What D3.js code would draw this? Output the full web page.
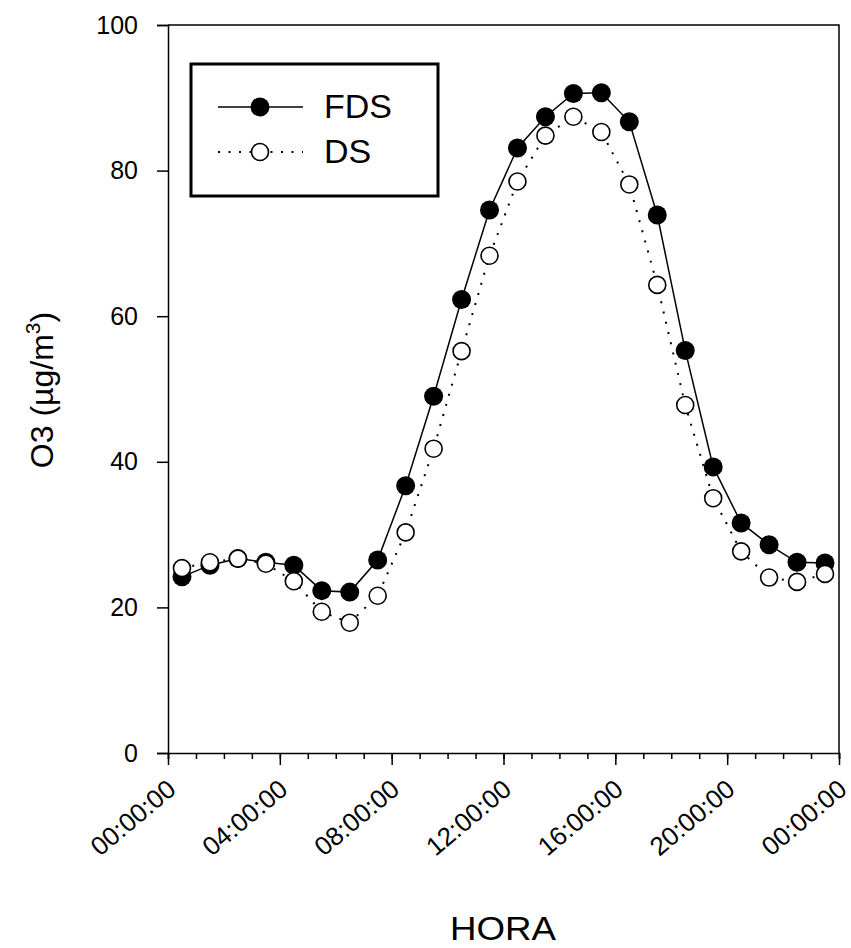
<!DOCTYPE html>
<html>
<head>
<meta charset="utf-8">
<script src="https://cdn.jsdelivr.net/npm/d3@7/dist/d3.min.js"></script>
<style>
  html, body { margin: 0; padding: 0; background: #fff; overflow: hidden; }
  svg { display: block; }
  text { font-family: "Liberation Sans", Arial, sans-serif; fill: #000; }
</style>
</head>
<body>
<svg id="chart" width="851" height="948"></svg>
<script>
// Hourly O3 profile (half-hour centred samples)
const hours = [0.5, 1.5, 2.5, 3.5, 4.5, 5.5, 6.5, 7.5, 8.5, 9.5, 10.5, 11.5,
               12.5, 13.5, 14.5, 15.5, 16.5, 17.5, 18.5, 19.5, 20.5, 21.5, 22.5, 23.5];
const fds = [24.2, 25.8, 26.7, 26.2, 25.8, 22.3, 22.1, 26.5, 36.7, 49.0, 62.3, 74.6,
             83.1, 87.4, 90.6, 90.7, 86.7, 73.9, 55.3, 39.3, 31.6, 28.6, 26.2, 26.1];
const ds  = [25.4, 26.2, 26.7, 26.0, 23.6, 19.4, 17.9, 21.6, 30.3, 41.8, 55.2, 68.3,
             78.5, 84.8, 87.4, 85.3, 78.1, 64.3, 47.8, 35.0, 27.7, 24.1, 23.5, 24.6];
const xTickHours = [0, 4, 8, 12, 16, 20, 24];
const xTickLabels = ["00:00:00", "04:00:00", "08:00:00", "12:00:00", "16:00:00", "20:00:00", "00:00:00"];
const yTicks = [0, 20, 40, 60, 80, 100];
const seriesNames = ["FDS", "DS"];

const svg = d3.select("#chart");
const m = { left: 168, right: 839, top: 25, bottom: 753 };

const x = d3.scaleLinear().domain([0, 24]).range([m.left, m.right]);
const y = d3.scaleLinear().domain([0, 100]).range([m.bottom, m.top]);

// frame (top and right edges)
svg.append("path")
  .attr("d", `M${m.left},${m.top}H${m.right}V${m.bottom}`)
  .attr("fill", "none").attr("stroke", "#000").attr("stroke-width", 1.5);

// Y axis
const yAxis = svg.append("g")
  .attr("transform", `translate(${m.left},0)`)
  .call(d3.axisLeft(y).tickValues(yTicks).tickSize(11).tickPadding(19));
yAxis.select(".domain").attr("stroke-width", 1.5);
yAxis.selectAll(".tick line").attr("stroke-width", 1.5);
yAxis.selectAll("text").attr("font-size", 25).attr("font-family", "Liberation Sans, Arial, sans-serif");

// X axis: minor hourly ticks, then major 4-hour ticks with labels
const hourTicks = d3.range(0, 25);
const xMinor = svg.append("g")
  .attr("transform", `translate(0,${m.bottom})`)
  .call(d3.axisBottom(x).tickValues(hourTicks).tickSize(6).tickFormat(""));
xMinor.select(".domain").attr("stroke-width", 1.5);
xMinor.selectAll(".tick line").attr("stroke-width", 1.5);

const xMajor = svg.append("g")
  .attr("transform", `translate(0,${m.bottom})`)
  .call(d3.axisBottom(x).tickValues(xTickHours).tickSize(12)
    .tickFormat((d, i) => xTickLabels[i]));
xMajor.select(".domain").remove();
xMajor.selectAll(".tick line").attr("stroke-width", 1.5);
xMajor.selectAll("text")
  .attr("font-size", 26)
  .attr("font-family", "Liberation Sans, Arial, sans-serif")
  .attr("text-anchor", "end")
  .attr("dy", 0)
  .attr("y", 0)
  .attr("transform", "translate(9,39) rotate(-40)");

// axis titles
svg.append("text")
  .attr("x", 503)
  .attr("y", 940)
  .attr("text-anchor", "middle")
  .attr("font-size", 33)
  .attr("textLength", 106)
  .attr("lengthAdjust", "spacingAndGlyphs")
  .text("HORA");

const yTitle = svg.append("text")
  .attr("transform", `translate(53,390) rotate(-90)`)
  .attr("text-anchor", "middle")
  .attr("font-size", 32);
yTitle.append("tspan").text("O3 (µg/m");
yTitle.append("tspan").attr("font-size", 21).attr("dy", -13).text("3");
yTitle.append("tspan").attr("dy", 13).text(")");

// lines
const line = vals => d3.line().x((d, i) => x(hours[i])).y(d => y(d))(vals);

svg.append("path").attr("d", line(fds))
  .attr("fill", "none").attr("stroke", "#000").attr("stroke-width", 1.5);
svg.append("path").attr("d", line(ds))
  .attr("fill", "none").attr("stroke", "#000").attr("stroke-width", 2)
  .attr("stroke-dasharray", "2,8.5");

// markers
svg.append("g").selectAll("circle").data(fds).join("circle")
  .attr("cx", (d, i) => x(hours[i])).attr("cy", d => y(d)).attr("r", 9.5)
  .attr("fill", "#000");
svg.append("g").selectAll("circle").data(ds).join("circle")
  .attr("cx", (d, i) => x(hours[i])).attr("cy", d => y(d)).attr("r", 8.5)
  .attr("fill", "#fff").attr("stroke", "#000").attr("stroke-width", 1.6);

// legend
const lg = svg.append("g");
lg.append("rect").attr("x", 191).attr("y", 64).attr("width", 247).attr("height", 132)
  .attr("fill", "#fff").attr("stroke", "#000").attr("stroke-width", 3);
const rows = [{ yy: 107, filled: true }, { yy: 152, filled: false }];
rows.forEach((r, i) => {
  lg.append("line").attr("x1", 218).attr("x2", 303).attr("y1", r.yy).attr("y2", r.yy)
    .attr("stroke", "#000")
    .attr("stroke-width", r.filled ? 1.5 : 2)
    .attr("stroke-dasharray", r.filled ? null : "2,8.5");
  lg.append("circle").attr("cx", 260).attr("cy", r.yy).attr("r", r.filled ? 9.5 : 8.5)
    .attr("fill", r.filled ? "#000" : "#fff")
    .attr("stroke", "#000").attr("stroke-width", r.filled ? 0 : 1.6);
  lg.append("text").attr("x", 324).attr("y", r.yy + 11)
    .attr("font-size", 34).text(seriesNames[i]);
});
</script>
</body>
</html>
